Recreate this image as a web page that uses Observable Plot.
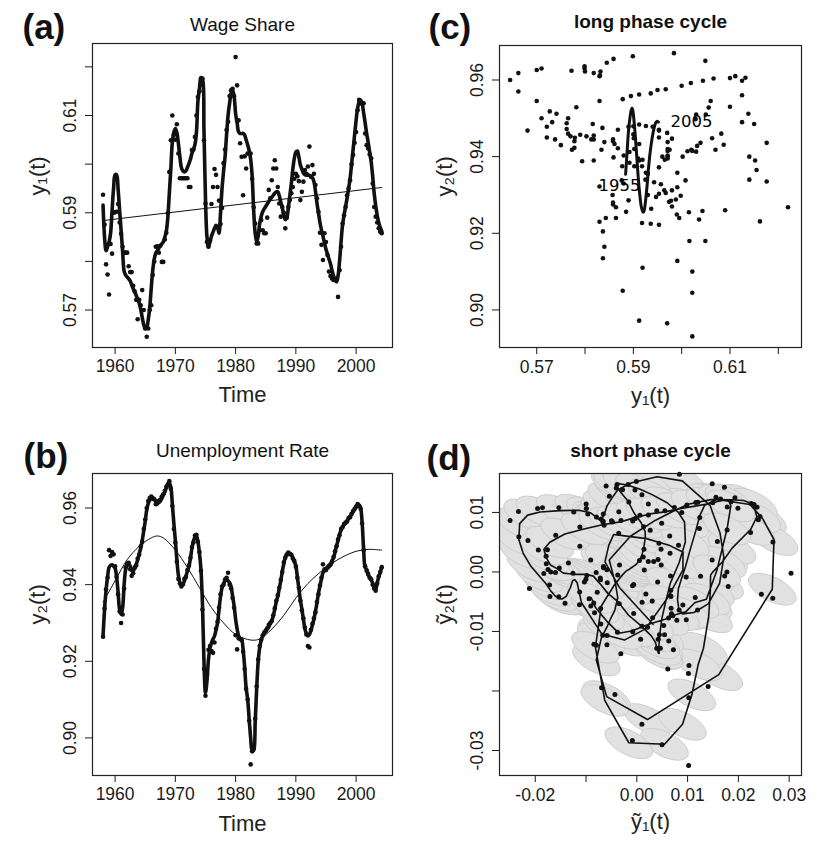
<!DOCTYPE html>
<html><head><meta charset="utf-8">
<script src="https://cdn.jsdelivr.net/npm/d3@7"></script>
<script src="https://cdn.jsdelivr.net/npm/@observablehq/plot@0.6"></script>
<style>
body{margin:0;background:#fff;}
#wrap{position:relative;width:822px;height:847px;background:#fff;overflow:hidden;}
#wrap svg{position:absolute;}
</style></head><body><div id="wrap"></div>
<script>
// quarterly series starting 1958 Q1
const startYear = 1958, perYear = 4;
const wageDots = [
0.5937,0.5876,0.5794,0.5773, 0.5732,0.5836,0.5816,0.5900, 0.5901,0.5902,0.5918,0.5880, 0.5857,0.5830,0.5818,0.5818,
0.5818,0.5790,0.5778,0.5778, 0.5750,0.5738,0.5721,0.5681, 0.5721,0.5710,0.5741,0.5700, 0.5662,0.5645,0.5662,0.5700,
0.5710,0.5772,0.5800,0.5830, 0.5831,0.5818,0.5832,0.5799, 0.5799,0.5845,0.5859,0.5899, 0.5984,0.6049,0.6100,0.6060,
0.6050,0.6082,0.6022,0.5971, 0.5971,0.5971,0.5971,0.5971, 0.5971,0.5953,0.5953,0.6029, 0.6030,0.6056,0.6100,0.6138,
0.6150,0.6176,0.6176,0.6049, 0.5919,0.5840,0.5830,0.5843, 0.5918,0.5953,0.5990,0.5978, 0.5953,0.5925,0.5877,0.5910,
0.6002,0.6030,0.6070,0.6087, 0.6140,0.6152,0.6155,0.6140, 0.6220,0.6162,0.6090,0.6043, 0.6015,0.5936,0.6016,0.5991,
0.6022,0.6022,0.6022,0.5970, 0.5912,0.5878,0.5837,0.5837, 0.5864,0.5885,0.5864,0.5858, 0.5858,0.5890,0.5947,0.5930,
0.5967,0.5991,0.6008,0.5991, 0.5953,0.5919,0.5892,0.5912, 0.5900,0.5868,0.5890,0.5912, 0.5926,0.5940,0.5953,0.5970,
0.5980,0.5975,0.5965,0.5926, 0.5943,0.5964,0.5988,0.5980, 0.5995,0.6036,0.5974,0.5998, 0.5980,0.5957,0.5930,0.5902,
0.5859,0.5834,0.5803,0.5858, 0.5840,0.5813,0.5779,0.5770, 0.5765,0.5762,0.5762,0.5765, 0.5727,0.5782,0.5830,0.5878,
0.5895,0.5912,0.5936,0.5950, 0.5967,0.6000,0.6019,0.6044, 0.6066,0.6111,0.6132,0.6125, 0.6125,0.6125,0.6063,0.6039,
0.6032,0.6020,0.6012,0.5960, 0.5912,0.5892,0.5880,0.5868, 0.5861,0.5858];
const wageSmooth = [
0.5916,0.5850,0.5822,0.5830, 0.5840,0.5858,0.5905,0.5950, 0.5978,0.5978,0.5948,0.5905, 0.5864,0.5820,0.5780,0.5772,
0.5768,0.5764,0.5760,0.5752, 0.5744,0.5738,0.5730,0.5722, 0.5714,0.5702,0.5685,0.5670, 0.5662,0.5664,0.5680,0.5705,
0.5745,0.5782,0.5805,0.5817, 0.5822,0.5827,0.5832,0.5836, 0.5840,0.5850,0.5862,0.5890, 0.5940,0.5990,0.6045,0.6065,
0.6073,0.6065,0.6043,0.6015, 0.5993,0.5986,0.5984,0.5986, 0.5993,0.6001,0.6010,0.6022, 0.6030,0.6040,0.6065,0.6130,
0.6155,0.6178,0.6175,0.6070, 0.5930,0.5850,0.5830,0.5840, 0.5852,0.5860,0.5868,0.5874, 0.5870,0.5858,0.5900,0.5950,
0.5985,0.6015,0.6060,0.6100, 0.6125,0.6145,0.6152,0.6140, 0.6104,0.6085,0.6066,0.6063, 0.6063,0.6063,0.6060,0.6050,
0.6040,0.6028,0.6010,0.5975, 0.5905,0.5858,0.5840,0.5852, 0.5878,0.5893,0.5902,0.5908, 0.5913,0.5918,0.5923,0.5928,
0.5932,0.5936,0.5940,0.5943, 0.5943,0.5935,0.5922,0.5910, 0.5895,0.5886,0.5890,0.5910, 0.5935,0.5960,0.5990,0.6012,
0.6025,0.6027,0.6015,0.5998, 0.5990,0.5982,0.5978,0.5977, 0.5978,0.5977,0.5975,0.5972, 0.5964,0.5945,0.5920,0.5900,
0.5880,0.5865,0.5852,0.5838, 0.5825,0.5815,0.5805,0.5795, 0.5782,0.5770,0.5762,0.5758, 0.5770,0.5800,0.5840,0.5875,
0.5895,0.5912,0.5930,0.5950, 0.5970,0.6000,0.6030,0.6060, 0.6090,0.6115,0.6128,0.6132, 0.6125,0.6105,0.6085,0.6063,
0.6045,0.6025,0.6005,0.5975, 0.5940,0.5915,0.5895,0.5880, 0.5870,0.5862];
const unempDots = [
0.9264,0.9338,0.9388,0.9418, 0.9490,0.9475,0.9485,0.9479, 0.9448,0.9420,0.9375,0.9330, 0.9300,0.9322,0.9390,0.9445,
0.9455,0.9457,0.9440,0.9423, 0.9430,0.9445,0.9450,0.9468, 0.9478,0.9500,0.9512,0.9545, 0.9570,0.9600,0.9618,0.9626,
0.9630,0.9624,0.9622,0.9610, 0.9612,0.9618,0.9622,0.9630, 0.9636,0.9645,0.9655,0.9662, 0.9670,0.9650,0.9605,0.9545,
0.9510,0.9460,0.9415,0.9403, 0.9395,0.9401,0.9415,0.9420, 0.9438,0.9450,0.9470,0.9498, 0.9510,0.9528,0.9530,0.9512,
0.9485,0.9436,0.9335,0.9180, 0.9110,0.9165,0.9230,0.9240, 0.9227,0.9222,0.9249,0.9285, 0.9303,0.9340,0.9375,0.9395,
0.9400,0.9413,0.9418,0.9431, 0.9400,0.9390,0.9365,0.9340, 0.9268,0.9231,0.9260,0.9258, 0.9255,0.9225,0.9180,0.9128,
0.9100,0.9045,0.8931,0.8965, 0.8972,0.9050,0.9135,0.9205, 0.9240,0.9256,0.9268,0.9275, 0.9280,0.9286,0.9295,0.9300,
0.9305,0.9320,0.9338,0.9358, 0.9372,0.9392,0.9412,0.9433, 0.9458,0.9470,0.9478,0.9484, 0.9480,0.9478,0.9468,0.9462,
0.9447,0.9418,0.9392,0.9358, 0.9333,0.9312,0.9288,0.9270, 0.9240,0.9236,0.9282,0.9298, 0.9312,0.9328,0.9355,0.9375,
0.9398,0.9418,0.9453,0.9440, 0.9438,0.9445,0.9449,0.9453, 0.9460,0.9472,0.9487,0.9500, 0.9518,0.9529,0.9545,0.9550,
0.9558,0.9562,0.9565,0.9574, 0.9576,0.9585,0.9592,0.9598, 0.9604,0.9610,0.9606,0.9598, 0.9560,0.9490,0.9448,0.9436,
0.9428,0.9418,0.9414,0.9400, 0.9390,0.9384,0.9403,0.9422, 0.9433,0.9445];
const unempSmooth = [
0.9266,0.9335,0.9385,0.9420, 0.9445,0.9450,0.9452,0.9448, 0.9443,0.9420,0.9380,0.9335, 0.9323,0.9340,0.9400,0.9440,
0.9452,0.9455,0.9448,0.9437, 0.9437,0.9442,0.9452,0.9465, 0.9480,0.9495,0.9515,0.9540, 0.9565,0.9595,0.9612,0.9620,
0.9625,0.9627,0.9624,0.9618, 0.9615,0.9614,0.9618,0.9625, 0.9633,0.9642,0.9652,0.9660, 0.9666,0.9655,0.9610,0.9560,
0.9515,0.9465,0.9425,0.9405, 0.9397,0.9400,0.9410,0.9422, 0.9435,0.9448,0.9468,0.9495, 0.9513,0.9524,0.9527,0.9512,
0.9482,0.9440,0.9350,0.9200, 0.9118,0.9150,0.9205,0.9235, 0.9248,0.9258,0.9266,0.9282, 0.9300,0.9335,0.9370,0.9392,
0.9402,0.9410,0.9414,0.9410, 0.9405,0.9395,0.9370,0.9345, 0.9310,0.9285,0.9266,0.9260, 0.9257,0.9230,0.9185,0.9130,
0.9101,0.9050,0.9000,0.8966, 0.8968,0.9040,0.9130,0.9200, 0.9236,0.9255,0.9266,0.9272, 0.9278,0.9284,0.9290,0.9298,
0.9306,0.9318,0.9336,0.9355, 0.9370,0.9390,0.9410,0.9435, 0.9455,0.9472,0.9480,0.9483, 0.9482,0.9478,0.9470,0.9460,
0.9449,0.9420,0.9390,0.9360, 0.9336,0.9310,0.9285,0.9272, 0.9266,0.9270,0.9280,0.9295, 0.9310,0.9330,0.9352,0.9378,
0.9396,0.9415,0.9431,0.9437, 0.9440,0.9443,0.9447,0.9451, 0.9462,0.9470,0.9485,0.9501, 0.9515,0.9531,0.9542,0.9551,
0.9556,0.9560,0.9566,0.9572, 0.9578,0.9583,0.9590,0.9596, 0.9602,0.9608,0.9608,0.9600, 0.9562,0.9492,0.9445,0.9440,
0.9425,0.9420,0.9412,0.9404, 0.9392,0.9388,0.9405,0.9420, 0.9431,0.9447];
// long-run trends
const wageTrendYears = [1958, 2004.25];
const wageTrend = [0.5884, 0.5952];
const unempTrendYears = [1958,1960,1962,1964,1966,1967,1968,1970,1972,1974,1976,1978,1980,1982,1983,1984,1986,1988,1990,1992,1994,1996,1998,2000,2002,2004.25];
const unempTrend = [0.9354,0.9410,0.9465,0.9500,0.9522,0.9527,0.9522,0.9490,0.9445,0.9392,0.9340,0.9300,0.9270,0.9257,0.9255,0.9258,0.9284,0.9320,0.9365,0.9403,0.9432,0.9456,0.9474,0.9487,0.9492,0.9490];
const cycleLabels = ["1955", "2005"];
// ticks
const timeTicks = [1960, 1970, 1980, 1990, 2000];
const wageTicks = [0.57, 0.58, 0.59, 0.60, 0.61, 0.62];
const wageTickLabels = ["0.57", "", "0.59", "", "0.61", ""];
const unempTicks = [0.90, 0.92, 0.94, 0.96];
const unempTickLabels = ["0.90", "0.92", "0.94", "0.96"];
const shortXTicks = [-0.02, -0.01, 0, 0.01, 0.02, 0.03];
const shortXTickLabels = ["-0.02", "", "0.00", "0.01", "0.02", "0.03"];
const shortYTicks = [0.01, 0, -0.01, -0.02, -0.03];
const shortYTickLabels = ["0.01", "0.00", "-0.01", "", "-0.03"];
const panelLetters = ["(a)", "(b)", "(c)", "(d)"];
const panelTitles = ["Wage Share", "Unemployment Rate", "long phase cycle", "short phase cycle"];
const axisLabels = {time: "Time", y1: "y\u2081(t)", y2: "y\u2082(t)", ty1: "\u1EF9\u2081(t)", ty2: "\u1EF9\u2082(t)"};

// derived tables
const trendW = d3.scaleLinear(wageTrendYears, wageTrend);
const trendU = d3.scaleLinear(unempTrendYears, unempTrend);
const rows = wageDots.map((w, i) => {
  const t = startYear + i / perYear;
  return {t, w, u: unempDots[i], ws: wageSmooth[i], us: unempSmooth[i], tw: trendW(t), tu: trendU(t)};
});
const wageTrendRows = wageTrendYears.map((t, i) => ({t, v: wageTrend[i]}));
const unempTrendRows = unempTrendYears.map((t, i) => ({t, v: unempTrend[i], w: trendW(t)}));

const FONT = "'Liberation Sans', Arial, Helvetica, sans-serif";
const INK = "#1a1a1a";
const style = {fontFamily: FONT, fontSize: "17.5px", color: INK, background: "transparent", overflow: "visible"};
const lbl = (ticks, labels) => d => labels[ticks.indexOf(d)];

const ellipse = {
  draw(context, size) {
    const a = Math.sqrt(size / Math.PI), b = a * 0.46, k = 0.5523;
    const th = 27 * Math.PI / 180, c = Math.cos(th), s = Math.sin(th);
    const P = ([x, y]) => [x * c - y * s, x * s + y * c];
    const pts = [[a,0],[a,k*b],[k*a,b],[0,b],[-k*a,b],[-a,k*b],[-a,0],[-a,-k*b],[-k*a,-b],[0,-b],[k*a,-b],[a,-k*b],[a,0]].map(P);
    context.moveTo(pts[0][0], pts[0][1]);
    for (let j = 1; j < 13; j += 3) context.bezierCurveTo(pts[j][0], pts[j][1], pts[j+1][0], pts[j+1][1], pts[j+2][0], pts[j+2][1]);
    context.closePath();
  }
};

function decorations(p) {
  return [
    Plot.text([p.letter], {frameAnchor: "top-left", textAnchor: "start", lineAnchor: "bottom", dx: p.letterDx, dy: p.letterDy, fontSize: 35, fontWeight: "bold", fill: "#111"}),
    Plot.text([p.title], {frameAnchor: "top", lineAnchor: "bottom", dy: p.titleDy, fontSize: 19, fontWeight: p.bold ? "bold" : "normal", fill: "#111"}),
    Plot.text([p.xLabel], {frameAnchor: "bottom", lineAnchor: "bottom", dy: p.xLabelDy, fontSize: 22, fill: "#222"}),
    Plot.text([p.yLabel], {frameAnchor: "left", lineAnchor: "bottom", rotate: -90, dx: -48, fontSize: 22, fill: "#222"})
  ];
}

function place(svg, left, top) {
  svg.style.left = left + "px";
  svg.style.top = top + "px";
  document.getElementById("wrap").appendChild(svg);
}

// (a) Wage share
place(Plot.plot({
  width: 411, height: 420, marginLeft: 92, marginRight: 19, marginTop: 43, marginBottom: 73,
  x: {domain: [1956.25, 2006.04]}, y: {domain: [0.5623, 0.6248]}, style,
  marks: [
    Plot.axisX(timeTicks, {tickSize: 7, tickPadding: 5, tickFormat: d => String(d), label: null, fontSize: 17.5}),
    Plot.axisY(wageTicks, {tickSize: 7, tickPadding: 10, tickRotate: -90, tickFormat: lbl(wageTicks, wageTickLabels), label: null, fontSize: 17.5}),
    Plot.dot(rows, {x: "t", y: "w", r: 2.3, fill: "#111", stroke: null}),
    Plot.line(rows, {x: "t", y: "ws", stroke: "#111", strokeWidth: 3.6, curve: "catmull-rom"}),
    Plot.line(wageTrendRows, {x: "t", y: "v", stroke: "#111", strokeWidth: 1}),
    Plot.frame({stroke: "#222", strokeWidth: 1.2}),
    ...decorations({letter: panelLetters[0], letterDx: -70, letterDy: -5, title: panelTitles[0], titleDy: -12.5, bold: false, xLabel: axisLabels.time, xLabelDy: 54, yLabel: axisLabels.y1})
  ]
}), 0, 0);

// (b) Unemployment rate
place(Plot.plot({
  width: 411, height: 427, marginLeft: 92, marginRight: 19, marginTop: 53, marginBottom: 72,
  x: {domain: [1956.25, 2006.04]}, y: {domain: [0.8902, 0.969]}, style,
  marks: [
    Plot.axisX(timeTicks, {tickSize: 7, tickPadding: 5, tickFormat: d => String(d), label: null, fontSize: 17.5}),
    Plot.axisY(unempTicks, {tickSize: 7, tickPadding: 10, tickRotate: -90, tickFormat: lbl(unempTicks, unempTickLabels), label: null, fontSize: 17.5}),
    Plot.dot(rows, {x: "t", y: "u", r: 2.3, fill: "#111", stroke: null}),
    Plot.line(rows, {x: "t", y: "us", stroke: "#111", strokeWidth: 3.6, curve: "catmull-rom"}),
    Plot.line(unempTrendRows, {x: "t", y: "v", stroke: "#111", strokeWidth: 1, curve: "catmull-rom"}),
    Plot.frame({stroke: "#222", strokeWidth: 1.2}),
    ...decorations({letter: panelLetters[1], letterDx: -69, letterDy: -6, title: panelTitles[1], titleDy: -17, bold: false, xLabel: axisLabels.time, xLabelDy: 55, yLabel: axisLabels.y2})
  ]
}), 0, 420);

// (c) long phase cycle
const firstTrend = unempTrendRows[0], lastTrend = unempTrendRows[unempTrendRows.length - 1];
place(Plot.plot({
  width: 411, height: 420, marginLeft: 88, marginRight: 21, marginTop: 45, marginBottom: 73,
  x: {domain: [0.5623, 0.6248]}, y: {domain: [0.8902, 0.969]}, style,
  marks: [
    Plot.axisX(wageTicks, {tickSize: 7, tickPadding: 6, tickFormat: lbl(wageTicks, wageTickLabels), label: null, fontSize: 17.5}),
    Plot.axisY(unempTicks, {tickSize: 7, tickPadding: 10, tickRotate: -90, tickFormat: lbl(unempTicks, unempTickLabels), label: null, fontSize: 17.5}),
    Plot.dot(rows, {x: "w", y: "u", r: 2.3, fill: "#111", stroke: null}),
    Plot.line(unempTrendRows, {x: "w", y: "v", stroke: "#111", strokeWidth: 3, curve: "catmull-rom"}),
    Plot.text([firstTrend], {x: "w", y: "v", text: () => cycleLabels[0], dx: -6, dy: 11, fontFamily: "'DejaVu Sans', sans-serif", fontSize: 16.5, fill: "#000"}),
    Plot.text([lastTrend], {x: "w", y: "v", text: () => cycleLabels[1], textAnchor: "start", dx: 12, dy: 0, fontFamily: "'DejaVu Sans', sans-serif", fontSize: 16.5, fill: "#000"}),
    Plot.frame({stroke: "#222", strokeWidth: 1.2}),
    ...decorations({letter: panelLetters[2], letterDx: -71, letterDy: -7, title: panelTitles[2], titleDy: -18, bold: true, xLabel: axisLabels.y1, xLabelDy: 55, yLabel: axisLabels.y2})
  ]
}), 411, 0);

// (d) short phase cycle (deviations from long-run trend)
const dev = rows.map(d => ({dx: d.w - d.tw, dy: d.u - d.tu, sx: d.ws - d.tw, sy: d.us - d.tu}));
place(Plot.plot({
  width: 411, height: 427, marginLeft: 88, marginRight: 21, marginTop: 53, marginBottom: 72,
  x: {domain: [-0.02704, 0.03243]}, y: {domain: [-0.0342, 0.01654]}, style,
  marks: [
    Plot.dot(dev, {x: "sx", y: "sy", r: 26, symbol: ellipse, fill: "#e1e1e1", stroke: "#cdcdcd", strokeWidth: 1, clip: true}),
    Plot.axisX(shortXTicks, {tickSize: 7, tickPadding: 6, tickFormat: lbl(shortXTicks, shortXTickLabels), label: null, fontSize: 17.5}),
    Plot.axisY(shortYTicks, {tickSize: 7, tickPadding: 10, tickRotate: -90, tickFormat: lbl(shortYTicks, shortYTickLabels), label: null, fontSize: 17.5}),
    Plot.line(dev, {x: "sx", y: "sy", stroke: "#111", strokeWidth: 1.6}),
    Plot.dot(dev, {x: "dx", y: "dy", r: 2.5, fill: "#111", stroke: null}),
    Plot.frame({stroke: "#222", strokeWidth: 1.2}),
    ...decorations({letter: panelLetters[3], letterDx: -73, letterDy: -4, title: panelTitles[3], titleDy: -17, bold: true, xLabel: axisLabels.ty1, xLabelDy: 53, yLabel: axisLabels.ty2})
  ]
}), 411, 420);
</script></body></html>
